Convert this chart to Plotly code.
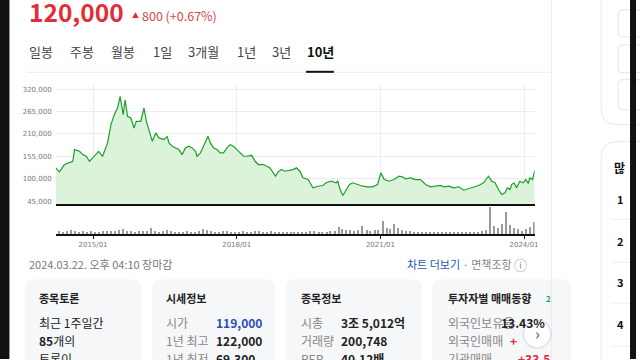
import plotly.graph_objects as go
import pandas as pd

# ---------------- data ----------------
dates = [
    "2014-03-22", "2014-04-20", "2014-05-28", "2014-07-06", "2014-07-31", "2014-08-13", "2014-09-20", "2014-10-15", "2014-11-10", "2014-12-05",
    "2015-01-11", "2015-02-13", "2015-03-15", "2015-03-28", "2015-04-22", "2015-05-18", "2015-06-12", "2015-07-07", "2015-07-27", "2015-08-19",
    "2015-09-03", "2015-09-21", "2015-10-16", "2015-11-10", "2015-11-27", "2015-12-31", "2016-01-25", "2016-02-12", "2016-03-03", "2016-03-28",
    "2016-04-23", "2016-05-18", "2016-06-25", "2016-07-20", "2016-08-02", "2016-08-27", "2016-09-22", "2016-10-17", "2016-11-10", "2016-12-06",
    "2017-01-01", "2017-01-26", "2017-02-21", "2017-03-04", "2017-03-30", "2017-04-23", "2017-05-11", "2017-05-27", "2017-06-14", "2017-07-09",
    "2017-08-03", "2017-08-28", "2017-09-22", "2017-10-18", "2017-11-12", "2017-12-07",
    "2018-01-02", "2018-01-28", "2018-02-22", "2018-03-18", "2018-04-25", "2018-05-21", "2018-06-15", "2018-07-23", "2018-08-17", "2018-09-12",
    "2018-10-07", "2018-10-24", "2018-11-13", "2018-12-08",
    "2019-01-03", "2019-01-28", "2019-03-07", "2019-04-01", "2019-04-27", "2019-05-22", "2019-06-29", "2019-08-05", "2019-09-12", "2019-10-20",
    "2019-11-14", "2019-12-22",
    "2020-01-29", "2020-02-11", "2020-02-24", "2020-03-20", "2020-04-14", "2020-05-10", "2020-06-04", "2020-07-12", "2020-08-19", "2020-09-26",
    "2020-11-02", "2020-12-10",
    "2021-01-04", "2021-01-30", "2021-03-08", "2021-04-15", "2021-05-23", "2021-06-17", "2021-07-12", "2021-08-19", "2021-09-26", "2021-11-03",
    "2021-12-11",
    "2022-01-18", "2022-02-25", "2022-04-04", "2022-04-29", "2022-06-06", "2022-07-14", "2022-08-21", "2022-09-28", "2022-11-05", "2022-12-13",
    "2023-01-20", "2023-02-27", "2023-04-05", "2023-04-30", "2023-05-25", "2023-06-20", "2023-07-15", "2023-08-09", "2023-08-27", "2023-09-16",
    "2023-09-29", "2023-10-16", "2023-11-05", "2023-11-30", "2023-12-26",
    "2024-01-15", "2024-02-02", "2024-02-14", "2024-03-06", "2024-03-22",
]
prices = [
    126700, 116900, 134800, 138900, 142800, 171500, 167300, 159200, 155100, 142800,
    155100, 167300, 155100, 167300, 187900, 232700, 257200, 273600, 302000, 257200,
    293900, 253000, 249100, 224600, 240800, 240800, 273600, 240800, 220400, 191800,
    212400, 200100, 196000, 204000, 187900, 179600, 175600, 171500, 159200, 175600,
    179600, 175600, 167300, 155100, 163400, 179600, 196000, 204000, 187900, 175600,
    171500, 163400, 163400, 175600, 183700, 179600,
    171500, 163400, 155100, 155100, 157500, 142800, 134800, 134800, 130600, 126700,
    114400, 106100, 116900, 122500,
    118400, 120100, 122500, 126700, 118400, 102200, 98000, 77700, 81600, 83400,
    90000, 93900,
    90000, 93900, 77700, 58900, 73600, 85800, 90000, 85800, 81600, 80200,
    80200, 85800,
    114400, 98000, 93900, 98000, 106100, 104600, 99800, 102200, 98000, 98000,
    85800,
    80200, 81600, 83400, 80200, 81600, 77700, 80200, 71800, 75300, 80200,
    83400, 90000, 106100, 93900, 90000, 73600, 61300, 65500, 77700, 73600,
    85800, 90000, 77700, 93900, 90000,
    98000, 88200, 102200, 98000, 120000,
]

# monthly volume (relative units), Apr 2014 .. Mar 2024
volumes = [
    3, 2, 3, 4, 3, 2, 3, 2, 3,
    2, 2, 3, 3, 3, 3, 4, 5, 3, 3, 2, 3,
    3, 3, 6, 3, 2, 3, 4, 3, 2, 2, 2, 3,
    2, 2, 3, 5, 4, 3, 2, 2, 3, 3, 2, 2,
    2, 3, 2, 2, 3, 3, 2, 2, 3, 2, 2, 2,
    2, 2, 2, 2, 2, 2, 3, 3, 2, 2, 2, 3,
    3, 7, 5, 4, 4, 3, 4, 8, 4, 3, 4, 4,
    13, 6, 5, 10, 6, 4, 3, 3, 2, 2, 2, 2,
    2, 2, 2, 2, 2, 2, 2, 2, 2, 2, 2, 2,
    2, 3, 4, 27, 8, 6, 10, 22, 9, 6, 5, 3,
    5, 7, 12,
]
vol_months = pd.date_range("2014-04-01", "2024-03-01", freq="MS") + pd.Timedelta(days=14)

y_ticks = [45000, 100000, 155000, 210000, 265000, 320000]
y_ticktext = [f"{v:,}" for v in y_ticks]
x_ticks = ["2015-01-01", "2018-01-01", "2021-01-01", "2024-01-01"]
x_ticktext = ["2015/01", "2018/01", "2021/01", "2024/01"]

tabs = ["일봉", "주봉", "월봉", "1일", "3개월", "1년", "3년", "10년"]
tab_x = [28, 69, 111, 153, 188, 237, 273, 308]

# ---------------- helpers (pixel -> paper) ----------------
W, H = 640, 360
KR = "Noto Sans CJK KR"
CH = "DejaVu Sans"


def px(x):
    return x / W


def py(y):
    return 1 - y / H


def rrect(x0, y0, x1, y1, r):
    p = lambda x, y: f"{px(x):.5f},{py(y):.5f}"
    return (f"M {p(x0 + r, y0)} L {p(x1 - r, y0)} Q {p(x1, y0)} {p(x1, y0 + r)} "
            f"L {p(x1, y1 - r)} Q {p(x1, y1)} {p(x1 - r, y1)} L {p(x0 + r, y1)} "
            f"Q {p(x0, y1)} {p(x0, y1 - r)} L {p(x0, y0 + r)} Q {p(x0, y0)} {p(x0 + r, y0)} Z")


annotations = []


def txt(x, y, s, size=12, color="#222", font=KR, xanchor="left", bold=False):
    if bold:
        s = f"<b>{s}</b>"
    annotations.append(dict(x=px(x), y=py(y), xref="paper", yref="paper", text=s,
                            showarrow=False, xanchor=xanchor, yanchor="middle",
                            borderpad=0,
                            font=dict(family=font, size=size, color=color)))


# ---------------- figure ----------------
fig = go.Figure()
fig.add_trace(go.Scatter(
    x=dates, y=prices, mode="lines", fill="tozeroy",
    line=dict(color="#1f9e2a", width=1.2), fillcolor="#daf3da",
    xaxis="x", yaxis="y", hoverinfo="skip"))
fig.add_trace(go.Bar(
    x=vol_months, y=volumes, marker=dict(color="#9a9a9a", line=dict(width=0)),
    width=1000 * 3600 * 24 * 9, xaxis="x2", yaxis="y2", hoverinfo="skip"))

xrange = ["2014-03-22", "2024-03-22"]
xdom = [px(56), px(538)]

fig.update_layout(
    width=W, height=H, margin=dict(l=0, r=0, t=0, b=0),
    paper_bgcolor="white", plot_bgcolor="rgba(0,0,0,0)", showlegend=False,
    xaxis=dict(domain=xdom, range=xrange, type="date", anchor="y",
               tickvals=x_ticks, showticklabels=False, showgrid=True,
               gridcolor="#ececec", gridwidth=1, zeroline=False,
               showline=True, linecolor="#111", linewidth=2, ticks=""),
    yaxis=dict(domain=[py(205), py(85)], range=[36900, 330600],
               tickvals=y_ticks, ticktext=y_ticktext, showgrid=True,
               gridcolor="#ececec", zeroline=False, showline=False, ticks="",
               tickfont=dict(family=CH, size=7, color="#777"), ticklabelstandoff=3),
    xaxis2=dict(domain=xdom, range=xrange, type="date", anchor="y2",
                tickvals=x_ticks, ticktext=x_ticktext, showgrid=False,
                zeroline=False, showline=True, linecolor="#111", linewidth=1.5,
                ticks="outside", ticklen=3, tickcolor="#111", tickwidth=1,
                tickfont=dict(family=CH, size=7, color="#777")),
    yaxis2=dict(domain=[py(235), py(206)], range=[0, 29], showgrid=False,
                showticklabels=False, zeroline=False, showline=False, ticks=""),
    bargap=0,
)

shapes = []
# main content right divider
shapes.append(dict(type="line", xref="paper", yref="paper", x0=px(555), x1=px(555),
                   y0=0, y1=1, line=dict(color="#ececec", width=1)))
# tabs baseline + active underline
shapes.append(dict(type="line", xref="paper", yref="paper", x0=px(27), x1=px(555),
                   y0=py(72.5), y1=py(72.5), line=dict(color="#ececec", width=1)))
shapes.append(dict(type="line", xref="paper", yref="paper", x0=px(308), x1=px(336),
                   y0=py(72), y1=py(72), line=dict(color="#111", width=2)))
# bottom cards
for (x0, x1) in [(25, 142), (153, 277), (288, 425), (435, 575)]:
    shapes.append(dict(type="path", xref="paper", yref="paper", path=rrect(x0, 280, x1, 400, 10),
                       fillcolor="#f6f7f9", line=dict(width=0), layer="below"))
# right column cards
shapes.append(dict(type="path", xref="paper", yref="paper", path=rrect(605, -40, 680, 125, 16),
                   fillcolor="white", line=dict(color="#e8e8e8", width=1)))
for (y0, y1) in [(10, 37), (45, 73), (80, 110)]:
    shapes.append(dict(type="path", xref="paper", yref="paper", path=rrect(622, y0, 680, y1, 5),
                       fillcolor="white", line=dict(color="#e3e3e3", width=1)))
shapes.append(dict(type="path", xref="paper", yref="paper", path=rrect(605, 142, 680, 420, 16),
                   fillcolor="white", line=dict(color="#e8e8e8", width=1)))
for yy in [220, 263, 304, 347]:
    shapes.append(dict(type="line", xref="paper", yref="paper", x0=px(615), x1=px(634),
                       y0=py(yy), y1=py(yy), line=dict(color="#efefef", width=1)))
# scroll button (shadow + circle)
shapes.append(dict(type="circle", xref="paper", yref="paper", x0=px(525.5), x1=px(555.5),
                   y0=py(350), y1=py(320), fillcolor="rgba(0,0,0,0.06)", line=dict(width=0)))
shapes.append(dict(type="circle", xref="paper", yref="paper", x0=px(527), x1=px(554),
                   y0=py(348.5), y1=py(321.5), fillcolor="white", line=dict(color="#e6e6e6", width=1)))
# black window edges
shapes.append(dict(type="rect", xref="paper", yref="paper", x0=0, x1=px(9.5), y0=0, y1=1,
                   fillcolor="#111", line=dict(width=0)))
shapes.append(dict(type="rect", xref="paper", yref="paper", x0=px(634), x1=1, y0=0, y1=1,
                   fillcolor="#111", line=dict(width=0)))

# ---------------- texts ----------------
RED = "#e22d39"
txt(28, 12, "120,000", size=24.5, color=RED, bold=True)
txt(132, 15, "▲", size=7, color=RED)
txt(142, 16, "800 (+0.67%)", size=12.5, color="#d9444c")
for t, x in zip(tabs, tab_x):
    if t == "10년":
        txt(x, 52, t, size=13, color="#111", bold=True)
    else:
        txt(x, 52, t, size=13, color="#444")

txt(28, 265, "2024.03.22. 오후 04:10 장마감", size=11, color="#777")
txt(409, 265, "<span style='color:#2a57b0'>차트 더보기</span> · 면책조항", size=11, color="#888")
txt(516, 265, "ⓘ", size=13, color="#999")

# card 1
txt(38, 299, "종목토론", size=11, color="#222", bold=True)
txt(38, 323, "최근 1주일간", size=12, color="#222")
txt(38, 341, "<b>85</b>개의", size=12, color="#222")
txt(38, 359, "토론이", size=12, color="#222")
# card 2
txt(166, 299, "시세정보", size=11, color="#222", bold=True)
txt(166, 323, "시가", size=12, color="#888")
txt(216, 323, "119,000", size=12, color="#1f4fc0", bold=True)
txt(166, 341, "1년 최고", size=12, color="#888")
txt(216, 341, "122,000", size=12, color="#222", bold=True)
txt(166, 359, "1년 최저", size=12, color="#888")
txt(216, 359, "69,300", size=12, color="#222", bold=True)
# card 3
txt(302, 299, "종목정보", size=11, color="#222", bold=True)
txt(302, 323, "시총", size=12, color="#888")
txt(342, 323, "3조 5,012억", size=12, color="#222", bold=True)
txt(302, 341, "거래량", size=12, color="#888")
txt(342, 341, "200,748", size=12, color="#222", bold=True)
txt(302, 359, "PER", size=12, color="#888")
txt(342, 359, "40.12배", size=12, color="#222", bold=True)
# card 4
txt(450, 299, "투자자별 매매동향", size=11, color="#222", bold=True)
txt(548, 299, "2", size=8, color="#19a15a", bold=True)
txt(450, 323, "외국인보유율", size=12, color="#888")
txt(503, 323, "13.43%", size=12, color="#222", bold=True)
txt(450, 341, "외국인매매", size=12, color="#888")
txt(512, 341, "+", size=12, color=RED, bold=True)
txt(450, 359, "기관매매", size=12, color="#888")
txt(520, 359, "+33.5", size=12, color=RED, bold=True)
txt(540.5, 334, "›", size=16, color="#555", xanchor="center")
# right column
txt(617, 168, "많", size=12, color="#111", bold=True)
for n, yy in zip(["1", "2", "3", "4"], [200, 242, 283, 325]):
    txt(620, yy, n, size=11, color="#111", bold=True)

fig.update_layout(shapes=shapes, annotations=annotations)
fig.write_html("out.html", config={"displayModeBar": False},
               post_script="document.body.style.margin='0';document.body.style.overflow='hidden';")
